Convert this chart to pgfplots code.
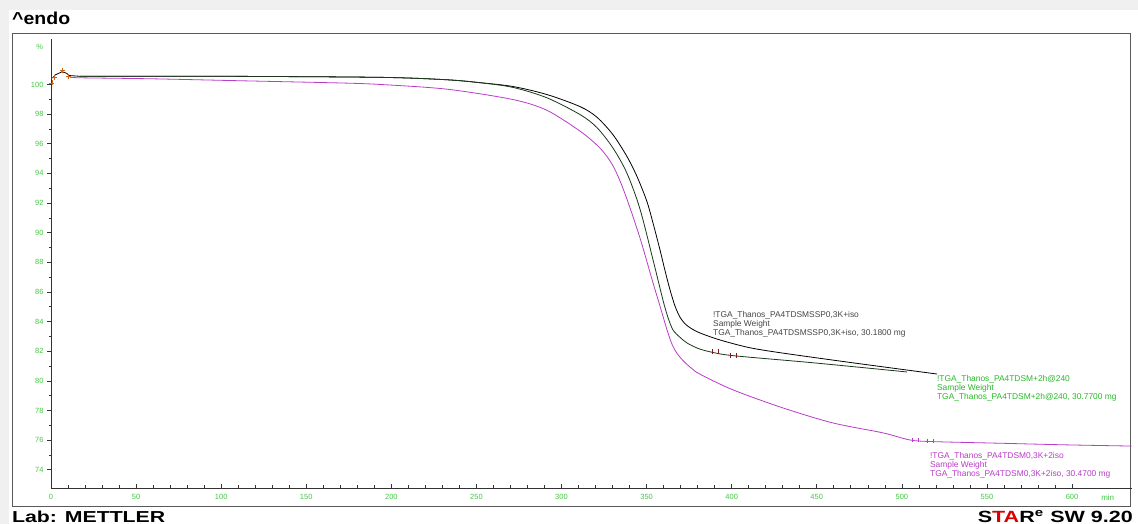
\documentclass[border=0pt]{standalone}
\usepackage{pgfplots}
\pgfplotsset{compat=1.18}
\usepackage{fontspec}
\setmainfont{Liberation Sans}
\definecolor{tickgreen}{RGB}{70,200,70}
\definecolor{labgreen}{RGB}{40,185,40}
\definecolor{magc}{RGB}{185,60,200}
\definecolor{darkgr}{RGB}{25,55,25}
\definecolor{markred}{RGB}{130,20,20}
\definecolor{markorange}{RGB}{200,100,30}
\definecolor{txtgray}{RGB}{70,70,70}

\pgfplotstableread{
x y
17.0 100.55
100 100.55
193 100.48
232 100.32
252 100.12
271.5 99.86
291.4 99.32
311 98.50
320.9 97.78
330.3 96.60
338.5 95.13
344.4 93.78
350.2 92.10
354.0 90.55
357.9 88.83
360.8 87.45
363.8 86.13
366.7 85.05
369.6 84.30
372.6 83.85
376.0 83.55
381.4 83.23
393.1 82.76
410 82.25
428.4 81.90
467.8 81.27
520.7 80.46
}\outer

\pgfplotstableread{
x y
17.0 100.55
100 100.55
193 100.48
232 100.32
252 100.12
271.5 99.80
291.4 99.10
311 97.96
320.9 97.08
330.3 95.70
338.5 94.00
346.1 91.60
353.8 88.16
359.6 85.46
362.5 84.30
365.5 83.44
369.5 82.95
373.7 82.56
380 82.20
387.3 81.96
400.8 81.70
447.8 81.22
503 80.60
}\inner

\pgfplotstableread{
x y
10.8 100.50
17 100.45
60 100.38
111 100.25
169.8 100.10
193.3 100.00
232.7 99.68
271.5 98.98
291.5 98.25
310.9 96.85
320.9 95.90
326 95.25
330.3 94.50
333.8 93.65
338.5 92.25
346.1 89.65
353.8 86.60
358 85.00
362 83.44
365 82.45
367.9 81.85
372 81.30
376.7 80.82
381.4 80.45
400.8 79.39
430.2 78.17
459.5 77.16
488.9 76.49
504.8 76.01
518.3 75.90
557.7 75.79
597 75.68
635 75.60
}\magenta

\pgfplotstableread{
x y
1.0 100.42
2.4 100.64
6.6 100.86
9.2 100.75
10.8 100.60
17.0 100.55
}\start

\begin{document}
\begin{tikzpicture}[x=1pt,y=1pt]
\useasboundingbox (0,0) rectangle (1138,524);
\fill[white] (0,0) rectangle (1138,524);
\fill[black!6] (0,0) rectangle (9,524);
\fill[black!6] (0,514) rectangle (1138,524);
\draw[black!65, line width=0.9pt] (12,491) rectangle (1130,18);
\node[anchor=base west, inner sep=0] at (12,499.5) {\resizebox{58pt}{12.5pt}{\bfseries\textasciicircum endo}};
\node[anchor=base west, inner sep=0] at (12,1.5) {\resizebox{153pt}{11.5pt}{\bfseries Lab: METTLER}};
\node[anchor=base east, inner sep=0] at (1133,1.5) {\resizebox{155pt}{12pt}{\bfseries S\textcolor{red!85!black}{TA}R\textsuperscript{e} SW 9.20}};

\begin{axis}[
  at={(51pt,36pt)}, anchor=south west,
  scale only axis, width=1080.6pt, height=448.6pt,
  xmin=0, xmax=635, ymin=72.77, ymax=103.04,
  axis x line=bottom, axis y line=left,
  axis line style={-, black!80, line width=0.8pt},
  xtick={0,50,...,600}, minor x tick num=4,
  ytick={74,76,...,100}, minor y tick num=1,
  major tick length=4pt, minor tick length=2.5pt,
  xtick align=inside, ytick align=outside,
  tick style={black!80, line width=0.6pt},
  /pgf/number format/assume math mode=true,
  ticklabel style={font=\fontsize{7.5}{8}\selectfont, text=tickgreen},
  xticklabel style={yshift=-2.5pt},
  clip=false,
]
\addplot[black, line width=0.8pt] table[x=x,y=y] {\start};
\addplot[black, line width=0.8pt, smooth, tension=0.5] table[x=x,y=y] {\outer};
\addplot[darkgr, line width=0.8pt, smooth, tension=0.5] table[x=x,y=y] {\inner};
\addplot[magc, line width=0.8pt, smooth, tension=0.5] table[x=x,y=y] {\magenta};
\addplot[only marks, mark=+, mark size=2.5pt, markorange, mark options={line width=0.7pt}] coordinates {(0.5,100.1) (1.8,100.46) (6.6,100.95) (10.2,100.53)};
\addplot[only marks, mark=|, mark size=2.5pt, markred, mark options={line width=0.7pt}] coordinates {(388.4,81.96) (392,81.96) (399,81.72) (402.5,81.72)};
\addplot[only marks, mark=|, mark size=2pt, magc, mark options={line width=0.6pt}] coordinates {(506,76.02) (509.5,76.0) (515,75.95) (518.5,75.93)};
\node[anchor=east, inner sep=0, text=tickgreen, font=\fontsize{7.5}{8}\selectfont] at (axis cs:-4.5,102.5) {\%};
\node[anchor=center, inner sep=0, text=tickgreen, font=\fontsize{8}{8}\selectfont] at (axis cs:621,72.15) {min};
\node[anchor=north west, inner sep=0, align=left, text=txtgray, font=\fontsize{8.4}{9}\selectfont] at (axis cs:389,84.72) {!TGA\_Thanos\_PA4TDSMSSP0,3K+iso\\Sample Weight\\TGA\_Thanos\_PA4TDSMSSP0,3K+iso, 30.1800 mg};
\node[anchor=north west, inner sep=0, align=left, text=labgreen, font=\fontsize{8.4}{9}\selectfont] at (axis cs:520.6,80.4) {!TGA\_Thanos\_PA4TDSM+2h@240\\Sample Weight\\TGA\_Thanos\_PA4TDSM+2h@240, 30.7700 mg};
\node[anchor=north west, inner sep=0, align=left, text=magc, font=\fontsize{8.4}{9}\selectfont] at (axis cs:516.5,75.2) {!TGA\_Thanos\_PA4TDSM0,3K+2iso\\Sample Weight\\TGA\_Thanos\_PA4TDSM0,3K+2iso, 30.4700 mg};
\end{axis}
\end{tikzpicture}
\end{document}
